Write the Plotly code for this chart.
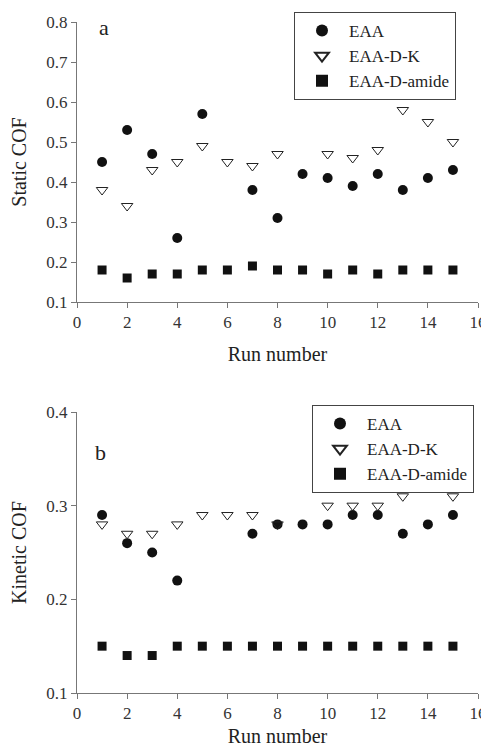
import plotly.graph_objects as go

runs = list(range(1, 16))

static_eaa = [0.45, 0.53, 0.47, 0.26, 0.57, None, 0.38, 0.31, 0.42, 0.41, 0.39, 0.42, 0.38, 0.41, 0.43]
static_dk = [0.38, 0.34, 0.43, 0.45, 0.49, 0.45, 0.44, 0.47, None, 0.47, 0.46, 0.48, 0.58, 0.55, 0.50]
static_amide = [0.18, 0.16, 0.17, 0.17, 0.18, 0.18, 0.19, 0.18, 0.18, 0.17, 0.18, 0.17, 0.18, 0.18, 0.18]

kinetic_eaa = [0.29, 0.26, 0.25, 0.22, None, None, 0.27, 0.28, 0.28, 0.28, 0.29, 0.29, 0.27, 0.28, 0.29]
kinetic_dk = [0.28, 0.27, 0.27, 0.28, 0.29, 0.29, 0.29, 0.28, None, 0.30, 0.30, 0.30, 0.31, None, 0.31]
kinetic_amide = [0.15, 0.14, 0.14, 0.15, 0.15, 0.15, 0.15, 0.15, 0.15, 0.15, 0.15, 0.15, 0.15, 0.15, 0.15]

series_names = ["EAA", "EAA-D-K", "EAA-D-amide"]
x_ticks = [0, 2, 4, 6, 8, 10, 12, 14, 16]

FONT = "Liberation Serif, Times New Roman, serif"
styles = [
    dict(symbol="circle", size=10, color="#111111"),
    dict(symbol="triangle-down-open", size=10, color="#222222", line=dict(width=1, color="#222222")),
    dict(symbol="square", size=9, color="#111111"),
]

fig = go.Figure()
for vals, name, st in zip([static_eaa, static_dk, static_amide], series_names, styles):
    fig.add_trace(go.Scatter(x=runs, y=vals, mode="markers", name=name, marker=st,
                             xaxis="x", yaxis="y", legend="legend"))
for vals, name, st in zip([kinetic_eaa, kinetic_dk, kinetic_amide], series_names, styles):
    fig.add_trace(go.Scatter(x=runs, y=vals, mode="markers", name=name, marker=st,
                             xaxis="x2", yaxis="y2", legend="legend2"))

# the page body has an 8px margin; work in reference pixels minus that offset
OFF = 8
W, H = 489 - OFF, 755 - 2 * OFF


def px_x(x):
    return (x - OFF) / W


def px_y(y):
    return 1 - (y - OFF) / H


xd = [px_x(77), px_x(478)]
axis_common = dict(showline=True, linecolor="#777777", linewidth=1, ticks="outside",
                   ticklen=5, tickcolor="#777777", showgrid=False, zeroline=False,
                   automargin=False, ticklabeloverflow="allow",
                   tickfont=dict(family=FONT, size=17, color="#333333"))
title_font = dict(family=FONT, size=20, color="#222222")

legend_common = dict(font=dict(family=FONT, size=17, color="#222222"), bgcolor="white",
                     bordercolor="#444444", borderwidth=1, xanchor="left", yanchor="top",
                     itemsizing="constant", itemwidth=44, tracegroupgap=0)

fig.update_layout(
    width=W, height=H, margin=dict(l=0, r=0, t=0, b=0),
    paper_bgcolor="white", plot_bgcolor="white",
    font=dict(family=FONT, color="#222222"),
    xaxis=dict(domain=xd, range=[0, 16], tickvals=x_ticks, anchor="y",
               title=dict(text="Run number", font=title_font, standoff=15),
               **axis_common),
    yaxis=dict(domain=[px_y(302), px_y(22)], range=[0.1, 0.8], dtick=0.1, tickformat=".1f",
               anchor="x", title=dict(text="Static COF", font=title_font, standoff=14),
               **axis_common),
    xaxis2=dict(domain=xd, range=[0, 16], tickvals=x_ticks, anchor="y2",
                title=dict(text="Run number", font=title_font, standoff=12),
                **axis_common),
    yaxis2=dict(domain=[px_y(693), px_y(412)], range=[0.1, 0.4], dtick=0.1, tickformat=".1f",
                anchor="x2", title=dict(text="Kinetic COF", font=title_font, standoff=14),
                **axis_common),
    legend=dict(x=px_x(294), y=px_y(12), **legend_common),
    legend2=dict(x=px_x(312), y=px_y(405), **legend_common),
    annotations=[
        dict(text="a", x=1.08, y=0.787, xref="x", yref="y", showarrow=False, xanchor="center", yanchor="middle",
             font=dict(family=FONT, size=22, color="#222222")),
        dict(text="b", x=0.92, y=0.357, xref="x2", yref="y2", showarrow=False, xanchor="center", yanchor="middle",
             font=dict(family=FONT, size=22, color="#222222")),
    ],
)

fig.write_html("out.html")
